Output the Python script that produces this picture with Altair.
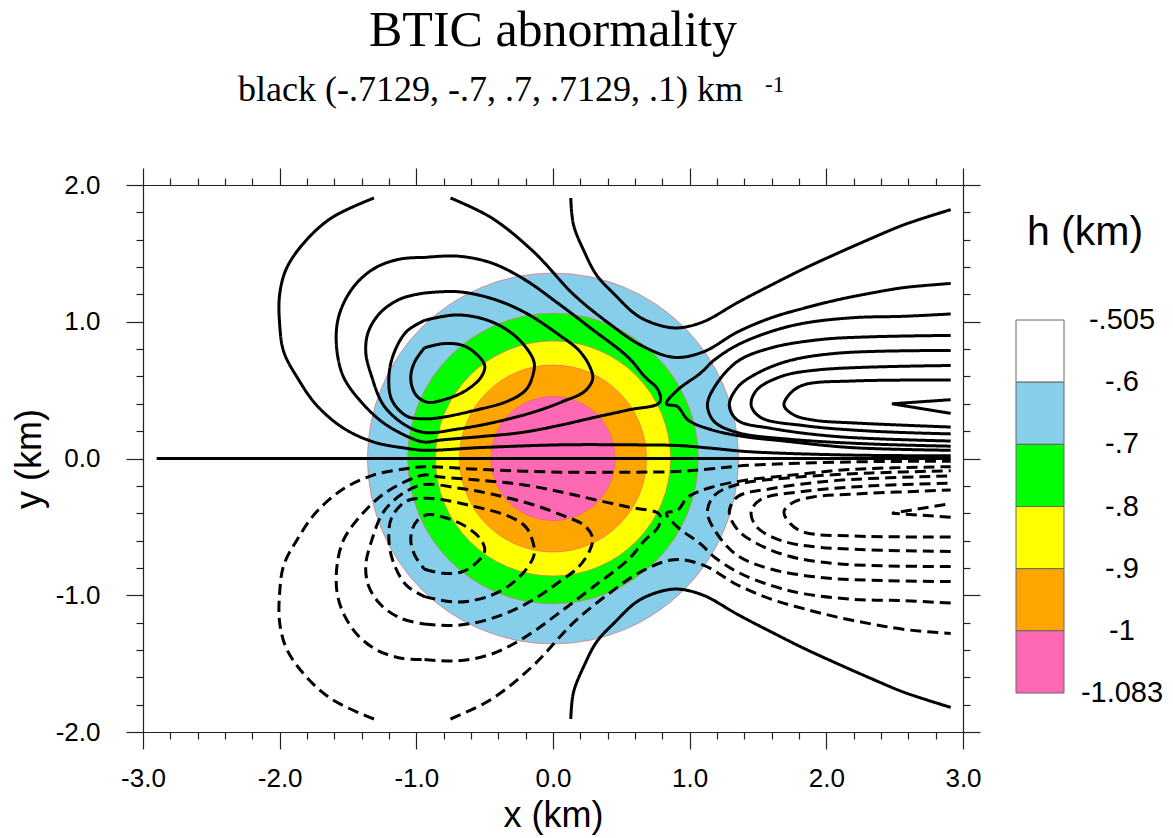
import math
import altair as alt
import pandas as pd

SANS = "Liberation Sans"
SERIF = "Liberation Serif"
W, H = 820, 547
X_DOM = [-3.0, 3.0]
Y_DOM = [-2.0, 2.0]

# ---------------- filled h (km) bands: concentric discs centred at (0, 0)
fill_radius = [1.357, 1.063, 0.86, 0.684, 0.455]          # km, outer edge of each band
fill_color = ["#87CEEB", "#00FF00", "#FFFF00", "#FFA500", "#FF69B4"]

# ---------------- colour bar
cb_labels = ["-.505", "-.6", "-.7", "-.8", "-.9", "-1", "-1.083"]
cb_colors = ["#FFFFFF", "#87CEEB", "#00FF00", "#FFFF00", "#FFA500", "#FF69B4"]

# ---------------- axis ticks
XTICKS = [-3.0, -2.8, -2.6, -2.4, -2.2, -2.0, -1.8, -1.6, -1.4, -1.2, -1.0, -0.8, -0.6, -0.4, -0.2,
          0.0, 0.2, 0.4, 0.6, 0.8, 1.0, 1.2, 1.4, 1.6, 1.8, 2.0, 2.2, 2.4, 2.6, 2.8, 3.0]
YTICKS = [-2.0, -1.8, -1.6, -1.4, -1.2, -1.0, -0.8, -0.6, -0.4, -0.2,
          0.0, 0.2, 0.4, 0.6, 0.8, 1.0, 1.2, 1.4, 1.6, 1.8, 2.0]

# ---------------- black contour lines (x, y in km)
A_X = [-1.31, -1.62, -1.82, -1.95, -2.00, -2.00, -1.97, -1.87, -1.73, -1.53, -1.31, -1.09, -0.94,
       -0.53, 0.06, 0.55, 0.91, 1.16, 1.43, 2.18, 2.91]
A_Y_UP = [1.905, 1.76, 1.58, 1.39, 1.20, 0.98, 0.78, 0.59, 0.39, 0.22, 0.12, 0.077, 0.06,
          0.08, 0.10, 0.10, 0.095, 0.075, 0.05, 0.025, 0.02]
A_Y_DN = [-1.905, -1.76, -1.58, -1.39, -1.20, -0.98, -0.78, -0.59, -0.39, -0.22, -0.12, -0.077, -0.06,
          -0.08, -0.10, -0.10, -0.095, -0.075, -0.05, -0.025, -0.02]

a_X = [0.13, 0.15, 0.23, 0.32, 0.45, 0.61, 0.76, 0.91, 1.10, 1.35, 1.60, 1.84, 2.08, 2.33, 2.57, 2.91]
a_Y_UP = [1.905, 1.71, 1.51, 1.34, 1.20, 1.05, 0.98, 0.955, 1.00, 1.14, 1.27, 1.39, 1.50, 1.61, 1.71, 1.82]
a_Y_DN = [-1.905, -1.71, -1.51, -1.34, -1.20, -1.05, -0.98, -0.955, -1.00, -1.14, -1.27, -1.39, -1.50,
          -1.61, -1.71, -1.82]

b_X = [-0.75, -0.45, -0.14, 0.15, 0.42, 0.64, 0.885, 1.10, 1.35, 1.60, 1.84, 2.08, 2.33, 2.57, 2.91]
b_Y_UP = [1.905, 1.76, 1.51, 1.20, 0.98, 0.83, 0.74, 0.78, 0.925, 1.03, 1.10, 1.16, 1.21, 1.25, 1.28]
b_Y_DN = [-1.905, -1.76, -1.51, -1.20, -0.98, -0.83, -0.74, -0.78, -0.925, -1.03, -1.10, -1.16, -1.21,
          -1.25, -1.28]

L1_X = [-0.94, -0.80, -0.67, -0.58, -0.50, -0.53, -0.65, -0.80, -0.91, -0.99, -1.03, -1.04, -1.01, -0.94]
L1_Y_UP = [0.81, 0.84, 0.83, 0.78, 0.68, 0.59, 0.49, 0.43, 0.41, 0.45, 0.52, 0.61, 0.71, 0.81]
L1_Y_DN = [-0.81, -0.84, -0.83, -0.78, -0.68, -0.59, -0.49, -0.43, -0.41, -0.45, -0.52, -0.61, -0.71, -0.81]

L2_X = [-0.94, -0.70, -0.45, -0.26, -0.14, -0.15, -0.20, -0.33, -0.58, -0.82, -0.94, -1.07, -1.18,
        -1.20, -1.16, -1.07, -0.94]
L2_Y_UP = [1.01, 1.05, 1.00, 0.88, 0.71, 0.60, 0.50, 0.42, 0.35, 0.30, 0.29, 0.31, 0.43, 0.61, 0.78, 0.93, 1.01]
L2_Y_DN = [-1.01, -1.05, -1.00, -0.88, -0.71, -0.60, -0.50, -0.42, -0.35, -0.30, -0.29, -0.31, -0.43,
           -0.61, -0.78, -0.93, -1.01]

L3_X = [-0.94, -0.70, -0.45, -0.21, 0.05, 0.19, 0.27, 0.29, 0.23, 0.08, -0.14, -0.45, -0.70, -0.94,
        -1.09, -1.24, -1.33, -1.37, -1.35, -1.26, -1.11, -0.94]
L3_Y_UP = [1.21, 1.22, 1.17, 1.07, 0.90, 0.79, 0.67, 0.58, 0.49, 0.42, 0.34, 0.26, 0.215, 0.19,
           0.25, 0.39, 0.61, 0.78, 0.93, 1.07, 1.17, 1.21]
L3_Y_DN = [-1.21, -1.22, -1.17, -1.07, -0.90, -0.79, -0.67, -0.58, -0.49, -0.42, -0.34, -0.26, -0.215, -0.19,
           -0.25, -0.39, -0.61, -0.78, -0.93, -1.07, -1.17, -1.21]

L4_X = [-0.94, -0.70, -0.45, -0.21, 0.03, 0.28, 0.55, 0.67, 0.77, 0.78, 0.55, 0.30, 0.06, -0.23,
        -0.53, -0.82, -0.94, -1.04, -1.24, -1.40, -1.53, -1.58, -1.58, -1.53, -1.43, -1.29, -1.11, -0.94]
L4_Y_UP = [1.47, 1.48, 1.43, 1.31, 1.14, 0.95, 0.74, 0.60, 0.50, 0.41, 0.355, 0.30, 0.245, 0.19,
           0.16, 0.135, 0.12, 0.15, 0.26, 0.41, 0.59, 0.78, 0.98, 1.14, 1.29, 1.40, 1.46, 1.47]
L4_Y_DN = [-1.47, -1.48, -1.43, -1.31, -1.14, -0.95, -0.74, -0.60, -0.50, -0.41, -0.355, -0.30, -0.245, -0.19,
           -0.16, -0.135, -0.12, -0.15, -0.26, -0.41, -0.59, -0.78, -0.98, -1.14, -1.29, -1.40, -1.46, -1.47]

U3_X = [2.91, 2.57, 2.20, 1.84, 1.60, 1.35, 1.18, 1.08, 0.91, 0.83, 0.91, 0.99, 1.16, 1.40, 1.67, 2.18, 2.91]
U3_Y_UP = [1.057, 1.04, 1.03, 0.99, 0.93, 0.83, 0.72, 0.625, 0.50, 0.40, 0.38, 0.28, 0.21, 0.16, 0.13, 0.08, 0.06]
U3_Y_DN = [-1.057, -1.04, -1.03, -0.99, -0.93, -0.83, -0.72, -0.625, -0.50, -0.40, -0.38, -0.28, -0.21,
           -0.16, -0.13, -0.08, -0.06]

U4_X = [2.91, 2.33, 1.96, 1.60, 1.35, 1.18, 1.13, 1.18, 1.35, 1.74, 2.33, 2.91]
U4_Y_UP = [0.90, 0.89, 0.87, 0.81, 0.71, 0.52, 0.39, 0.27, 0.19, 0.14, 0.106, 0.09]
U4_Y_DN = [-0.90, -0.89, -0.87, -0.81, -0.71, -0.52, -0.39, -0.27, -0.19, -0.14, -0.106, -0.09]

U5_X = [2.91, 2.08, 1.71, 1.47, 1.35, 1.29, 1.35, 1.60, 2.08, 2.91]
U5_Y_UP = [0.79, 0.77, 0.71, 0.61, 0.52, 0.39, 0.28, 0.22, 0.16, 0.128]
U5_Y_DN = [-0.79, -0.77, -0.71, -0.61, -0.52, -0.39, -0.28, -0.22, -0.16, -0.128]

U6_X = [2.91, 1.96, 1.67, 1.49, 1.45, 1.52, 1.84, 2.33, 2.91]
U6_Y_UP = [0.68, 0.65, 0.60, 0.50, 0.39, 0.30, 0.24, 0.20, 0.18]
U6_Y_DN = [-0.68, -0.65, -0.60, -0.50, -0.39, -0.30, -0.24, -0.20, -0.18]

U7_X = [2.91, 2.20, 1.84, 1.74, 1.69, 1.76, 1.91, 2.20, 2.91]
U7_Y_UP = [0.574, 0.567, 0.54, 0.48, 0.39, 0.32, 0.28, 0.26, 0.23]
U7_Y_DN = [-0.574, -0.567, -0.54, -0.48, -0.39, -0.32, -0.28, -0.26, -0.23]

SPIKE_X = [2.91, 2.48, 2.91]
SPIKE_Y_UP = [0.43, 0.40, 0.33]
SPIKE_Y_DN = [-0.43, -0.40, -0.33]

ZERO_X = [-2.90, 2.91]
ZERO_Y = [0.0, 0.0]

smooth_lines = [
    ("zero", "solid", ZERO_X, ZERO_Y),
    ("A_up", "solid", A_X, A_Y_UP), ("A_dn", "dash", A_X, A_Y_DN),
    ("a_up", "solid", a_X, a_Y_UP), ("a_dn", "solid", a_X, a_Y_DN),
    ("b_up", "solid", b_X, b_Y_UP), ("b_dn", "dash", b_X, b_Y_DN),
    ("L1_up", "solid", L1_X, L1_Y_UP), ("L1_dn", "dash", L1_X, L1_Y_DN),
    ("L2_up", "solid", L2_X, L2_Y_UP), ("L2_dn", "dash", L2_X, L2_Y_DN),
    ("L3_up", "solid", L3_X, L3_Y_UP), ("L3_dn", "dash", L3_X, L3_Y_DN),
    ("L4_up", "solid", L4_X, L4_Y_UP), ("L4_dn", "dash", L4_X, L4_Y_DN),
    ("U3_up", "solid", U3_X, U3_Y_UP), ("U3_dn", "dash", U3_X, U3_Y_DN),
    ("U4_up", "solid", U4_X, U4_Y_UP), ("U4_dn", "dash", U4_X, U4_Y_DN),
    ("U5_up", "solid", U5_X, U5_Y_UP), ("U5_dn", "dash", U5_X, U5_Y_DN),
    ("U6_up", "solid", U6_X, U6_Y_UP), ("U6_dn", "dash", U6_X, U6_Y_DN),
    ("U7_up", "solid", U7_X, U7_Y_UP), ("U7_dn", "dash", U7_X, U7_Y_DN),
]
sharp_lines = [
    ("S_up", "solid", SPIKE_X, SPIKE_Y_UP), ("S_dn", "dash", SPIKE_X, SPIKE_Y_DN),
]


def to_frame(lines):
    rows = []
    for name, style, xs, ys in lines:
        for k, (x, y) in enumerate(zip(xs, ys)):
            rows.append({"id": name, "style": style, "k": k, "x": x, "y": y})
    return pd.DataFrame(rows)


smooth_df = to_frame(smooth_lines)
sharp_df = to_frame(sharp_lines)
disc_df = pd.DataFrame({"cx": [0.0] * len(fill_radius), "cy": [0.0] * len(fill_radius),
                        "r": fill_radius, "c": fill_color})
cb_df = pd.DataFrame({"lo": list(range(6)), "hi": list(range(1, 7)), "c": cb_colors})
cbl_df = pd.DataFrame({"i": list(range(7)), "t": cb_labels})

# ---------------- axes
MAJOR = "abs(datum.value - round(datum.value)) < 0.01"
TICK_SIZE = {"condition": {"test": MAJOR, "value": 17}, "value": 7}
LABEL_EXPR = (MAJOR + " ? (datum.value < -0.01 ? '-' : '') + format(abs(datum.value), '.1f') : ''")
common = dict(tickSize=TICK_SIZE, tickColor="#222222", tickWidth=1.2, domainColor="#222222",
              domainWidth=1.2, grid=False, labelFlush=False, labelOverlap=False)

bottom_axis = alt.Axis(orient="bottom", values=XTICKS, labelExpr=LABEL_EXPR, labelFont=SANS,
                       labelFontSize=26, labelColor="black", labelPadding=16, title="x (km)",
                       titleFont=SANS, titleFontSize=36, titleFontWeight="normal", titleColor="black",
                       titlePadding=7, **common)
left_axis = alt.Axis(orient="left", values=YTICKS, labelExpr=LABEL_EXPR, labelFont=SANS,
                     labelFontSize=26, labelColor="black", labelPadding=26, title="y (km)",
                     titleFont=SANS, titleFontSize=36, titleFontWeight="normal", titleColor="black",
                     titlePadding=7, **common)
top_axis = alt.Axis(orient="top", values=XTICKS, labels=False, title="", **common)
right_axis = alt.Axis(orient="right", values=YTICKS, labels=False, title="", **common)


def xs(axis):
    return alt.X("x:Q", scale=alt.Scale(domain=X_DOM, nice=False, zero=False), axis=axis)


def ys(axis):
    return alt.Y("y:Q", scale=alt.Scale(domain=Y_DOM, nice=False, zero=False), axis=axis)


discs = alt.Chart(disc_df).mark_arc(theta=2 * math.pi, stroke="#e46a6a", strokeWidth=0.7).encode(
    x=alt.X("cx:Q", scale=alt.Scale(domain=X_DOM, nice=False, zero=False), axis=bottom_axis),
    y=alt.Y("cy:Q", scale=alt.Scale(domain=Y_DOM, nice=False, zero=False), axis=left_axis),
    radius=alt.Radius("r:Q", stack=False,
                      scale=alt.Scale(type="linear", domain=[0, 1], range=[0, W / 6.0])),
    color=alt.Color("c:N", scale=None),
)

dash_scale = alt.Scale(domain=["solid", "dash"], range=[[1, 0], [11, 6]])

smooth = alt.Chart(smooth_df).mark_line(interpolate="catmull-rom", color="black", strokeWidth=3).encode(
    x=xs(top_axis), y=ys(right_axis), detail="id:N", order="k:Q",
    strokeDash=alt.StrokeDash("style:N", scale=dash_scale, legend=None),
)
sharp = alt.Chart(sharp_df).mark_line(interpolate="linear", color="black", strokeWidth=3).encode(
    x=xs(None), y=ys(None), detail="id:N", order="k:Q",
    strokeDash=alt.StrokeDash("style:N", scale=dash_scale, legend=None),
)

cb_scale = alt.Scale(domain=[0, 6], range=[135, 508], nice=False, zero=False)
colorbar = alt.Chart(cb_df).mark_rect(stroke="#666666", strokeWidth=1).encode(
    x=alt.value(873), x2=alt.value(921),
    y=alt.Y("lo:Q", scale=cb_scale, axis=None), y2="hi:Q",
    color=alt.Color("c:N", scale=None),
)
cb_text = alt.Chart(cbl_df).mark_text(font=SANS, fontSize=29, align="center", baseline="middle",
                                      color="black").encode(
    x=alt.value(979), y=alt.Y("i:Q", scale=cb_scale, axis=None), text="t:N")
cb_title = alt.Chart(pd.DataFrame({"t": ["h (km)"]})).mark_text(
    font=SANS, fontSize=41, align="center", baseline="alphabetic", color="black").encode(
    x=alt.value(942), y=alt.value(60), text="t:N")

subtitle = alt.Chart(pd.DataFrame({"t": ["black (-.7129, -.7, .7, .7129, .1) km"]})).mark_text(
    font=SERIF, fontSize=36, align="left", baseline="alphabetic", color="black").encode(
    x=alt.value(95), y=alt.value(-84), text="t:N")
superscript = alt.Chart(pd.DataFrame({"t": ["-1"]})).mark_text(
    font=SERIF, fontSize=23, align="left", baseline="alphabetic", color="black").encode(
    x=alt.value(622), y=alt.value(-93), text="t:N")

chart = alt.layer(discs, smooth, sharp, colorbar, cb_text, cb_title, subtitle, superscript).resolve_scale(
    x="independent", y="independent"
).resolve_axis(
    x="independent", y="independent"
).properties(
    width=W, height=H,
    title=alt.Title("BTIC abnormality", font=SERIF, fontSize=50, fontWeight="normal", color="black",
                    anchor="middle", frame="group", offset=16),
    autosize=alt.AutoSizeParams(type="none"),
    padding={"left": 143, "top": 185, "right": 210, "bottom": 106},
    background="white",
).configure_view(strokeWidth=0)

chart.save("out.html", embed_options={"renderer": "svg", "actions": False})
